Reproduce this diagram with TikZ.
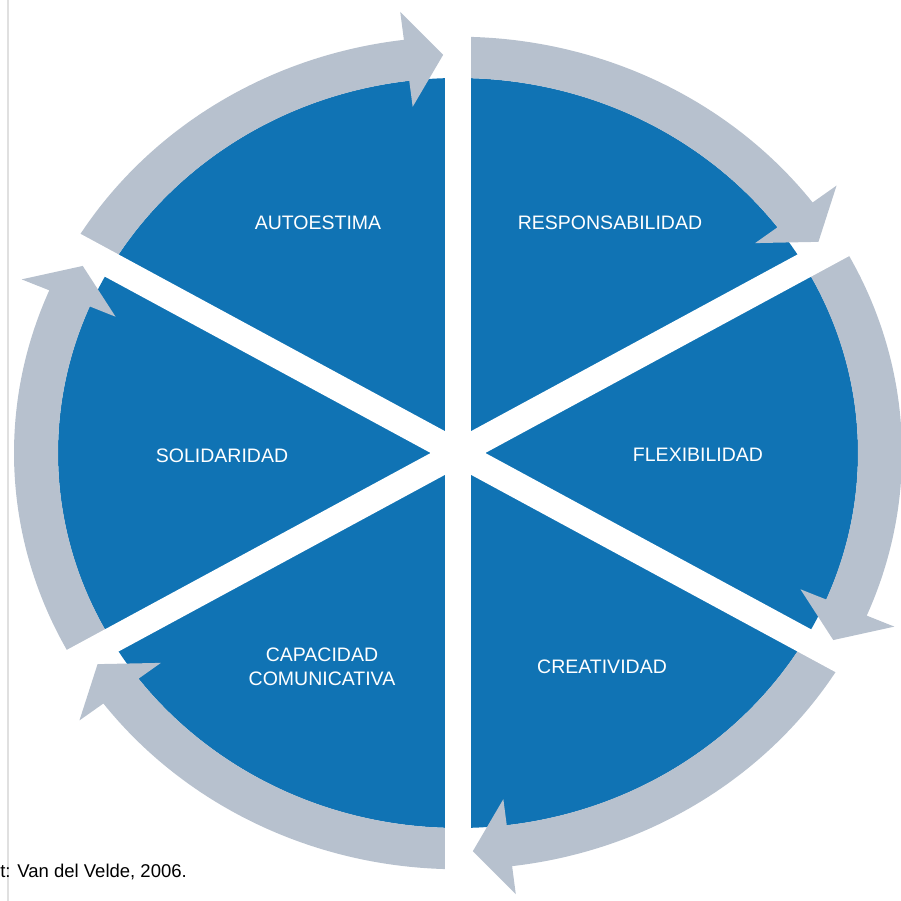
\documentclass[tikz,border=0pt]{standalone}
\usepackage{fontspec}
\setmainfont{Liberation Sans}
\usepackage{tikz}
\definecolor{wheelblue}{RGB}{16,115,180}
\definecolor{ringgray}{RGB}{183,193,206}

\begin{document}
\begin{tikzpicture}[x=1pt,y=1pt,
    value/.style={text=white,font=\fontsize{19.5}{24}\selectfont,align=center,inner sep=0pt},
    ringarrow/.style={fill=ringgray},
    gap/.style={draw=white,line width=26pt}]

          \useasboundingbox (0,0) rectangle (900,901);

          \begin{scope}[shift={(458,448)},yscale=0.9375]
          \fill[wheelblue] (0,0) circle[radius=400];

          % arrows around the wheel
          \fill[ringarrow] (150:400) arc[start angle=150,end angle=97,radius=400] -- (97:372) -- (92:425) -- (97:474) -- (97:444) arc[start angle=97,end angle=150,radius=444] -- cycle;
          \fill[ringarrow] (90:400) arc[start angle=90,end angle=37,radius=400] -- (37:372) -- (32:425) -- (37:474) -- (37:444) arc[start angle=37,end angle=90,radius=444] -- cycle;
          \fill[ringarrow] (30:400) arc[start angle=30,end angle=-23,radius=400] -- (-23:372) -- (-28:425) -- (-23:474) -- (-23:444) arc[start angle=-23,end angle=30,radius=444] -- cycle;
          \fill[ringarrow] (-30:400) arc[start angle=-30,end angle=-83,radius=400] -- (-83:372) -- (-88:425) -- (-83:474) -- (-83:444) arc[start angle=-83,end angle=-30,radius=444] -- cycle;
          \fill[ringarrow] (-90:400) arc[start angle=-90,end angle=-143,radius=400] -- (-143:372) -- (-148:425) -- (-143:474) -- (-143:444) arc[start angle=-143,end angle=-90,radius=444] -- cycle;
          \fill[ringarrow] (210:400) arc[start angle=210,end angle=157,radius=400] -- (157:372) -- (152:425) -- (157:474) -- (157:444) arc[start angle=157,end angle=210,radius=444] -- cycle;

          % white cuts
          \draw[gap] (90:520) -- (270:520);
          \draw[gap] (30:520) -- (210:520);
          \draw[gap] (150:520) -- (330:520);
          \end{scope}

          \draw[black!12,line width=2pt] (8,0) -- (8,901);

          \node[value] (autoestima) at (318,678) {AUTOESTIMA};
          \node[value] (responsabilidad) at (610,678) {RESPONSABILIDAD};
          \node[value] (flexibilidad) at (698,446) {FLEXIBILIDAD};
          \node[value] (creatividad) at (602,234) {CREATIVIDAD};
          \node[value] (capacidad) at (322,234) {CAPACIDAD\\COMUNICATIVA};
          \node[value] (solidaridad) at (222,445) {SOLIDARIDAD};

          \node[anchor=east,inner sep=0pt,font=\fontsize{18.5}{22}\selectfont] (fuente) at (187,29) {t: Van del Velde, 2006.};
        \end{tikzpicture}
\end{document}
